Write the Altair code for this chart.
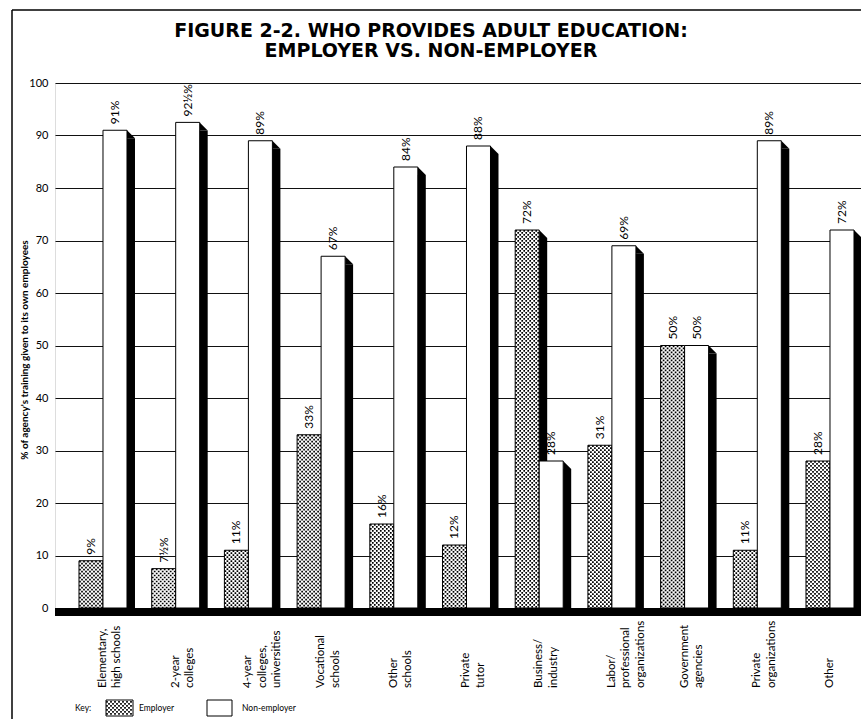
import altair as alt
import pandas as pd

# ---- data -------------------------------------------------------------
categories = [
    "Elementary,\nhigh schools",
    "2-year\ncolleges",
    "4-year\ncolleges,\nuniversities",
    "Vocational\nschools",
    "Other\nschools",
    "Private\ntutor",
    "Business/\nindustry",
    "Labor/\nprofessional\norganizations",
    "Government\nagencies",
    "Private\norganizations",
    "Other",
]
employer_pct = [9, 7.5, 11, 33, 16, 12, 72, 31, 50, 11, 28]
non_employer_pct = [91, 92.5, 89, 67, 84, 88, 28, 69, 50, 89, 72]
series = ["Employer", "Non-employer"]
y_ticks = [0, 10, 20, 30, 40, 50, 60, 70, 80, 90, 100]

title_text = "FIGURE 2-2. WHO PROVIDES ADULT EDUCATION:\nEMPLOYER VS. NON-EMPLOYER"
y_title = "% of agency's training given to its own employees"


def pct_label(v):
    whole = int(v)
    return f"{whole}½%" if v != whole else f"{whole}%"


rows = []
for cat, e, n in zip(categories, employer_pct, non_employer_pct):
    rows.append({"category": cat, "series": series[0], "pct": e, "label": pct_label(e)})
    rows.append({"category": cat, "series": series[1], "pct": n, "label": pct_label(n)})
df = pd.DataFrame(rows)
cat_df = pd.DataFrame({"category": categories})
one = pd.DataFrame({"k": [0]})

# ---- styling ----------------------------------------------------------
FONT = "Lato"
W, H = 806, 525
BAR_W = 24          # width of one bar in px
DEPTH = 8           # depth of the black side face
half = BAR_W / 2
offsets = {series[0]: -half, series[1]: half}   # bar centre relative to group centre

x_scale = alt.Scale(domain=categories, paddingInner=0.34, paddingOuter=0.2133, align=0.774)
x_enc = alt.X("category:N", sort=categories, scale=x_scale, axis=None)
y_axis = alt.Axis(
    values=y_ticks, grid=True, gridColor="#111111", gridWidth=1.2,
    domain=False, ticks=False, tickSize=0,
    labelFont=FONT, labelFontSize=11, labelColor="black", labelPadding=7,
    title=None,
)
y_enc = alt.Y("pct:Q", scale=alt.Scale(domain=[0, 100], nice=False), stack=None, axis=y_axis)

base = alt.Chart(df)
layers = []

# black side faces (drawn first, so the neighbouring bar hides what it should)
for s, off in offsets.items():
    sub = base.transform_filter(alt.datum.series == s)
    layers.append(
        sub.mark_bar(color="black", width=BAR_W, xOffset=off + DEPTH, yOffset=DEPTH)
        .encode(x=x_enc, y=y_enc)
    )
    # bevelled corner joining the bar top to the side face
    layers.append(
        sub.mark_point(shape="M-1,-1L-1,1L1,1Z", size=DEPTH * DEPTH, filled=True,
                       color="black", opacity=1, strokeWidth=0,
                       xOffset=off + half + DEPTH / 2, yOffset=DEPTH / 2)
        .encode(x=x_enc, y=y_enc)
    )

# bar faces
for s, off in offsets.items():
    sub = base.transform_filter(alt.datum.series == s)
    layers.append(
        sub.mark_bar(fill="white", stroke="black", strokeWidth=1, width=BAR_W, xOffset=off)
        .encode(x=x_enc, y=y_enc)
    )

# stipple for employer bars: columns of dashed rules, alternating phase
DOT = 1.7
emp = base.transform_filter(alt.datum.series == series[0])
n_cols = BAR_W // 2
for c in range(n_cols):
    layers.append(
        emp.mark_rule(color="black", strokeWidth=DOT, strokeDash=[DOT, 4 - DOT],
                      strokeDashOffset=0 if c % 2 == 0 else 2, strokeCap="butt",
                      xOffset=offsets[series[0]] - half + 1 + 2 * c)
        .encode(x=x_enc, y=y_enc, y2=alt.datum(0))
    )

# thick zero baseline
layers.append(
    alt.Chart(one).mark_rule(color="black", strokeWidth=8, yOffset=4).encode(y=alt.datum(0))
)

# value labels
for s, off in offsets.items():
    sub = base.transform_filter(alt.datum.series == s)
    layers.append(
        sub.mark_text(angle=270, align="left", baseline="middle", dx=6, xOffset=off,
                      font=FONT, fontSize=12, color="black")
        .encode(x=x_enc, y=y_enc, text="label:N")
    )

# category labels under the baseline
layers.append(
    alt.Chart(cat_df).mark_text(angle=270, align="left", baseline="middle", lineBreak="\n",
                                font=FONT, fontSize=11.5, lineHeight=14.5, color="black")
    .encode(x=x_enc, y=alt.value(605), text="category:N")
)

# y-axis title
layers.append(
    alt.Chart(one).mark_text(angle=270, align="center", baseline="middle", font=FONT,
                             fontSize=10, fontWeight="bold", color="black")
    .encode(x=alt.value(-30), y=alt.value(267), text=alt.value(y_title))
)

# two-line heading
layers.append(
    alt.Chart(one).mark_text(align="center", baseline="alphabetic", lineBreak="\n",
                             font="DejaVu Sans", fontSize=19, fontWeight="bold", lineHeight=20,
                             color="black")
    .encode(x=alt.value(376), y=alt.value(-46), text=alt.value(title_text))
)

# frame lines
layers.append(
    alt.Chart(one).mark_rule(color="black", strokeWidth=1.5)
    .encode(x=alt.value(-43), y=alt.value(-73), y2=alt.value(H + 111))
)
layers.append(
    alt.Chart(one).mark_rule(color="black", strokeWidth=1.5)
    .encode(x=alt.value(-43), x2=alt.value(W), y=alt.value(-73))
)

# key
KEY_Y0, KEY_Y1 = 617, 633
key_mid = (KEY_Y0 + KEY_Y1) / 2
key_text = alt.Chart(one).mark_text(align="left", baseline="middle", font=FONT,
                                    fontSize=8.5, color="black")
layers.append(key_text.encode(x=alt.value(20), y=alt.value(key_mid), text=alt.value("Key:")))
for (bx0, bx1, tx), s in zip([(51, 78, 84), (152, 177, 187)], series):
    layers.append(
        alt.Chart(one).mark_rect(fill="white", stroke="black", strokeWidth=1)
        .encode(x=alt.value(bx0), x2=alt.value(bx1), y=alt.value(KEY_Y0), y2=alt.value(KEY_Y1))
    )
    layers.append(key_text.encode(x=alt.value(tx), y=alt.value(key_mid), text=alt.value(s)))
for c in range((78 - 51) // 2):
    layers.append(
        alt.Chart(one).mark_rule(color="black", strokeWidth=DOT, strokeDash=[DOT, 4 - DOT],
                                 strokeDashOffset=0 if c % 2 == 0 else 2, strokeCap="butt")
        .encode(x=alt.value(52 + 2 * c), y=alt.value(KEY_Y0 + 1), y2=alt.value(KEY_Y1 - 1))
    )

chart = (
    alt.layer(*layers)
    .properties(
        width=W, height=H,
        autosize=alt.AutoSizeParams(type="none"),
        padding={"left": 55, "top": 83, "right": 0, "bottom": 111},
    )
    .configure_view(stroke=None)
    .configure(background="white")
)

chart.save("out.html", embed_options={"renderer": "svg", "actions": False})
